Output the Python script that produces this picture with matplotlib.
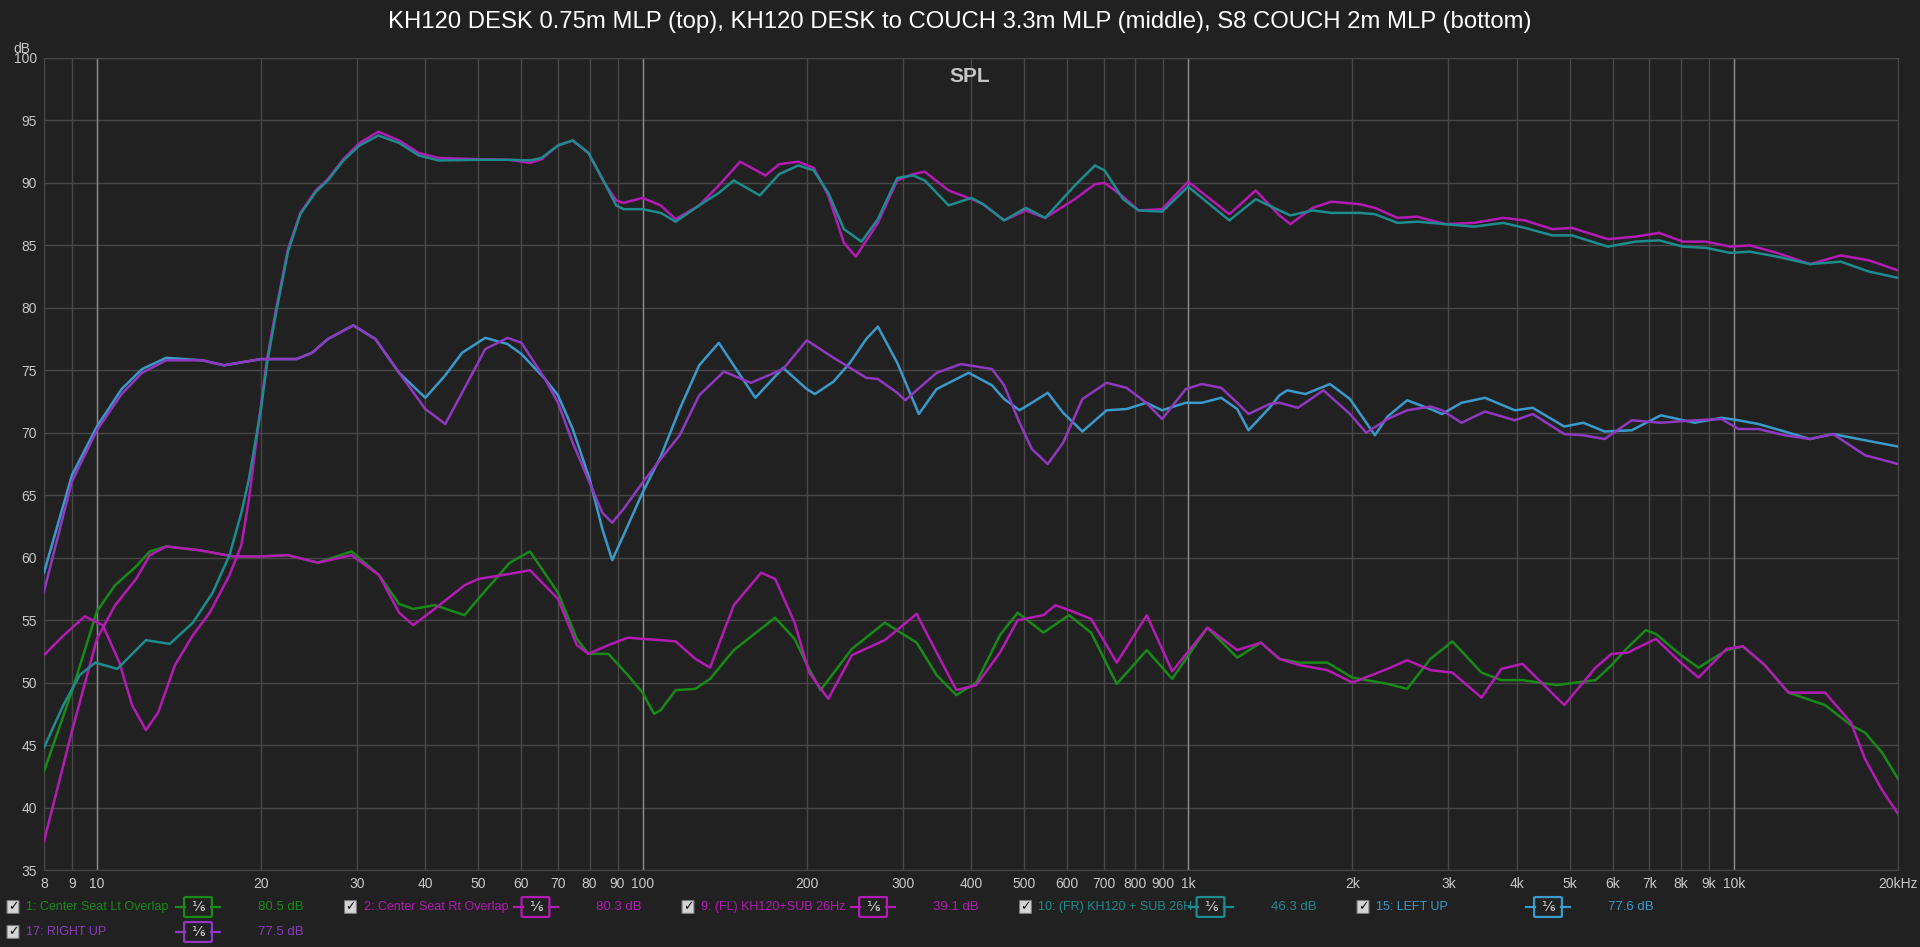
import numpy as np
import matplotlib.pyplot as plt
from matplotlib.patches import FancyBboxPatch
from matplotlib.lines import Line2D
from matplotlib.ticker import NullLocator

# ---- data: (frequency Hz, SPL dB) ----
fl_desk = [(8, 52.2), (8.7, 53.8), (9.5, 55.3), (10.25, 54.6), (11.0, 51.6), (11.6, 48.2), (12.3, 46.2),
           (12.95, 47.6), (13.9, 51.4), (15.0, 53.8), (16.1, 55.6), (17.5, 58.6), (18.4, 61.0), (19.0, 64.7),
           (20.0, 72.3), (20.5, 75.9), (21.3, 79.9), (22.4, 84.7), (23.6, 87.6), (25.2, 89.4), (26.5, 90.3),
           (28.3, 91.9), (30.3, 93.2), (32.8, 94.1), (35.8, 93.4), (38.9, 92.4), (42.3, 92.0), (50, 91.9),
           (57.1, 91.85), (62.2, 91.6), (65.3, 91.9), (70, 93.0), (74.5, 93.4), (79.6, 92.4), (85.2, 90.0),
           (89.5, 88.6), (92.3, 88.4), (100, 88.8), (108, 88.2), (115, 87.1), (127, 88.2), (138, 89.8),
           (151, 91.7), (168, 90.6), (178, 91.5), (193, 91.7), (206, 91.2), (219, 89.0), (234, 85.2),
           (246, 84.1), (270, 86.8), (293, 90.2), (313, 90.7), (329, 90.9), (364, 89.4), (401, 88.7),
           (421, 88.3), (460, 87.0), (504, 87.8), (547, 87.2), (620, 88.7), (675, 89.9), (703, 90.0),
           (760, 88.9), (811, 87.8), (896, 87.9), (1000, 90.1), (1190, 87.5), (1330, 89.4), (1470, 87.4),
           (1540, 86.7), (1690, 88.0), (1830, 88.5), (2060, 88.3), (2200, 88.0), (2420, 87.2), (2630, 87.3),
           (2960, 86.7), (3340, 86.8), (3780, 87.2), (4140, 87.0), (4650, 86.3), (5050, 86.4), (5880, 85.5),
           (6600, 85.7), (7300, 86.0), (8070, 85.3), (8900, 85.3), (9850, 84.9), (10700, 85.0), (12000, 84.4),
           (13800, 83.5), (15700, 84.2), (17700, 83.8), (20000, 83.0)]

fr_desk = [(8, 44.8), (8.68, 48.2), (9.3, 50.6), (9.93, 51.6), (10.9, 51.1), (12.3, 53.4), (13.6, 53.1),
           (15.0, 54.8), (16.3, 57.2), (17.5, 60.2), (18.4, 63.6), (19.0, 66.3), (20.0, 72.0), (20.5, 75.5),
           (21.3, 79.6), (22.4, 84.5), (23.6, 87.5), (25.2, 89.3), (26.5, 90.2), (28.3, 91.8), (30.3, 93.0),
           (32.8, 93.8), (35.8, 93.2), (38.9, 92.2), (42.3, 91.8), (50, 91.85), (57.1, 91.85), (62.2, 91.8),
           (65.3, 92.0), (70, 93.0), (74.5, 93.4), (79.6, 92.4), (85.2, 90.0), (89.5, 88.2), (92.3, 87.9),
           (100, 87.9), (108, 87.6), (115, 86.9), (127, 88.2), (138, 89.2), (147, 90.2), (164, 89.0),
           (178, 90.7), (193, 91.4), (206, 91.0), (219, 89.2), (234, 86.3), (252, 85.3), (270, 87.1),
           (293, 90.4), (313, 90.6), (329, 90.2), (364, 88.2), (401, 88.8), (421, 88.3), (460, 87.0),
           (504, 88.0), (547, 87.2), (620, 89.8), (675, 91.4), (703, 91.0), (760, 88.7), (811, 87.8),
           (896, 87.7), (1000, 89.7), (1190, 87.0), (1330, 88.7), (1470, 87.8), (1540, 87.4), (1690, 87.8),
           (1830, 87.6), (2060, 87.6), (2200, 87.5), (2420, 86.8), (2630, 86.9), (2960, 86.7), (3340, 86.5),
           (3780, 86.8), (4140, 86.4), (4650, 85.8), (5050, 85.8), (5880, 84.9), (6600, 85.3), (7300, 85.4),
           (8070, 84.9), (8900, 84.8), (9850, 84.4), (10700, 84.5), (12000, 84.1), (13800, 83.5), (15700, 83.7),
           (17700, 82.9), (20000, 82.4)]

left_up = [(8, 58.8), (9, 66.6), (10, 70.5), (11.1, 73.5), (12.1, 75.1), (13.4, 76.0), (15.6, 75.8),
           (17.1, 75.4), (20, 75.9), (23.2, 75.9), (24.8, 76.4), (26.5, 77.5), (29.5, 78.6), (32.4, 77.5),
           (35.8, 74.8), (40, 72.8), (43.5, 74.6), (46.7, 76.4), (51.5, 77.6), (56.6, 77.1), (60, 76.3),
           (66.3, 74.3), (70, 73.0), (74.5, 70.3), (80, 66.3), (84.4, 62.3), (88, 59.8), (92.3, 61.8),
           (100, 65.2), (108, 68.1), (117, 71.9), (127, 75.4), (138, 77.2), (150, 74.8), (161, 72.8),
           (181, 75.2), (200, 73.5), (207, 73.1), (224, 74.1), (240, 75.6), (257, 77.5), (270, 78.5),
           (293, 75.6), (321, 71.5), (346, 73.5), (396, 74.8), (437, 73.8), (460, 72.7), (491, 71.8),
           (517, 72.4), (553, 73.2), (590, 71.6), (640, 70.1), (709, 71.8), (771, 71.9), (838, 72.4),
           (896, 71.8), (990, 72.4), (1060, 72.4), (1150, 72.8), (1230, 71.9), (1290, 70.2), (1410, 72.0),
           (1470, 73.0), (1520, 73.4), (1640, 73.1), (1820, 73.9), (1980, 72.7), (2200, 69.8), (2320, 71.3),
           (2520, 72.6), (2780, 71.9), (2920, 71.5), (3170, 72.4), (3500, 72.8), (3970, 71.8), (4280, 72.0),
           (4890, 70.5), (5300, 70.8), (5800, 70.1), (6500, 70.2), (7350, 71.4), (8480, 70.8), (9500, 71.2),
           (10200, 71.0), (11100, 70.7), (12400, 70.1), (13800, 69.5), (15200, 69.9), (17400, 69.4),
           (20000, 68.9)]

right_up = [(8, 57.3), (9, 66.1), (10, 70.2), (11.1, 73.1), (12.1, 74.8), (13.4, 75.8), (15.6, 75.8),
            (17.1, 75.4), (20, 75.9), (23.2, 75.9), (24.8, 76.4), (26.5, 77.5), (29.5, 78.6), (32.4, 77.5),
            (35.8, 74.8), (40, 71.9), (43.5, 70.7), (46.7, 73.2), (51.5, 76.7), (56.6, 77.6), (60, 77.2),
            (66.3, 74.3), (70, 72.4), (74.5, 69.2), (80, 66.0), (84.4, 63.6), (88, 62.8), (92.3, 63.9),
            (100, 66.0), (108, 67.9), (117, 69.8), (127, 73.0), (141, 74.9), (158, 74.0), (181, 75.1),
            (200, 77.4), (224, 76.0), (240, 75.2), (257, 74.4), (270, 74.3), (293, 73.2), (303, 72.6),
            (346, 74.8), (383, 75.5), (437, 75.1), (460, 73.8), (491, 70.8), (517, 68.7), (553, 67.5),
            (590, 69.2), (640, 72.7), (709, 74.0), (771, 73.6), (838, 72.4), (896, 71.1), (990, 73.5),
            (1060, 73.9), (1150, 73.6), (1230, 72.4), (1290, 71.5), (1410, 72.3), (1470, 72.4), (1590, 72.0),
            (1770, 73.4), (1980, 71.5), (2120, 70.0), (2320, 71.1), (2520, 71.8), (2780, 72.1), (2920, 71.8),
            (3170, 70.8), (3500, 71.7), (3970, 71.0), (4280, 71.5), (4890, 69.9), (5300, 69.8), (5800, 69.5),
            (6500, 71.0), (7350, 70.8), (8480, 71.0), (9500, 71.1), (10200, 70.3), (11100, 70.3),
            (12400, 69.8), (13800, 69.5), (15200, 69.9), (17400, 68.2), (20000, 67.5)]

seat_lt = [(8, 42.9), (9, 49.3), (10, 55.7), (10.8, 57.8), (11.8, 59.3), (12.5, 60.5), (13.4, 60.9),
           (15.4, 60.6), (17.8, 60.1), (20, 60.1), (22.4, 60.2), (25.4, 59.6), (29.3, 60.5), (32.9, 58.6),
           (35.8, 56.3), (38, 55.9), (41.6, 56.2), (47.2, 55.4), (50, 56.7), (57.1, 59.6), (62.2, 60.5),
           (70, 57.2), (75.8, 53.5), (79.6, 52.3), (86.6, 52.3), (94, 50.6), (100, 49.2), (105, 47.5),
           (108, 47.8), (115, 49.4), (125, 49.5), (133, 50.3), (147, 52.6), (175, 55.2), (190, 53.5),
           (202, 51.1), (212, 49.4), (242, 52.7), (278, 54.8), (318, 53.2), (346, 50.6), (376, 49.0),
           (409, 50.0), (452, 53.8), (487, 55.6), (543, 54.0), (605, 55.4), (664, 54.0), (740, 49.9),
           (840, 52.6), (935, 50.3), (1085, 54.4), (1230, 52.0), (1360, 53.2), (1470, 51.9), (1600, 51.6),
           (1800, 51.6), (2000, 50.4), (2320, 49.9), (2520, 49.5), (2780, 51.9), (3050, 53.3), (3450, 50.8),
           (3750, 50.2), (4100, 50.2), (4730, 49.8), (5580, 50.2), (5970, 51.4), (6390, 52.8), (6900, 54.2),
           (7200, 53.9), (8000, 52.2), (8620, 51.2), (9700, 52.6), (10400, 52.9), (11400, 51.4),
           (12600, 49.2), (14700, 48.2), (16400, 46.6), (17400, 46.0), (18700, 44.4), (20000, 42.3)]

seat_rt = [(8, 37.3), (9, 46.1), (10, 53.5), (10.8, 56.2), (11.8, 58.3), (12.5, 60.2), (13.4, 60.9),
           (15.4, 60.6), (17.8, 60.1), (20, 60.1), (22.4, 60.2), (25.4, 59.6), (29.3, 60.2), (32.9, 58.6),
           (35.8, 55.6), (38, 54.6), (41.6, 55.9), (47.2, 57.8), (50, 58.3), (57.1, 58.7), (62.2, 59.0),
           (70, 56.7), (75.8, 53.0), (79.6, 52.3), (86.6, 53.0), (94, 53.6), (100, 53.5), (108, 53.4),
           (115, 53.3), (125, 51.9), (133, 51.2), (147, 56.2), (165, 58.8), (175, 58.3), (190, 54.8),
           (202, 50.8), (219, 48.7), (242, 52.2), (278, 53.4), (318, 55.5), (346, 52.4), (376, 49.4),
           (409, 49.8), (452, 52.4), (487, 55.0), (543, 55.4), (571, 56.2), (605, 55.8), (664, 55.1),
           (740, 51.6), (840, 55.4), (935, 50.9), (1085, 54.4), (1230, 52.6), (1360, 53.2), (1470, 51.9),
           (1600, 51.4), (1800, 51.0), (2000, 50.0), (2320, 51.1), (2520, 51.8), (2780, 51.0), (3050, 50.8),
           (3450, 48.8), (3750, 51.1), (4100, 51.5), (4890, 48.2), (5580, 51.2), (5970, 52.3), (6390, 52.4),
           (7200, 53.5), (8000, 51.6), (8620, 50.4), (9700, 52.7), (10400, 52.9), (11400, 51.4),
           (12600, 49.2), (14700, 49.2), (16400, 46.8), (17400, 43.9), (18700, 41.4), (20000, 39.5)]

legend_names = ['1: Center Seat Lt Overlap', '2: Center Seat Rt Overlap', '9: (FL) KH120+SUB 26Hz',
                '10: (FR) KH120 + SUB 26H', '15: LEFT UP', '17: RIGHT UP']
legend_values = ['80.5 dB', '80.3 dB', '39.1 dB', '46.3 dB', '77.6 dB', '77.5 dB']
colors = ['#178a17', '#b41ab4', '#b41ab4', '#1c8c8e', '#3a9acb', '#9038bf']
series = [seat_lt, seat_rt, fl_desk, fr_desk, left_up, right_up]

xticks = [8, 9, 10, 20, 30, 40, 50, 60, 70, 80, 90, 100, 200, 300, 400, 500, 600, 700, 800, 900,
          1000, 2000, 3000, 4000, 5000, 6000, 7000, 8000, 9000, 10000, 20000]
xticklabels = ['8', '9', '10', '20', '30', '40', '50', '60', '70', '80', '90', '100', '200', '300', '400',
               '500', '600', '700', '800', '900', '1k', '2k', '3k', '4k', '5k', '6k', '7k', '8k', '9k',
               '10k', '20kHz']
yticks = list(range(35, 101, 5))

title = 'KH120 DESK 0.75m MLP (top), KH120 DESK to COUCH 3.3m MLP (middle), S8 COUCH 2m MLP (bottom)'

# ---- figure ----
W, H = 1920, 947
BG = '#212121'
GRID = '#474747'
TXT = '#c8c8c8'
narrow = ['Liberation Sans Narrow', 'Liberation Sans', 'DejaVu Sans']

fig = plt.figure(figsize=(W / 100, H / 100), dpi=100, facecolor=BG)
ax = fig.add_axes([44 / W, 1 - 870 / H, (1898 - 44) / W, (870 - 58) / H], facecolor=BG)

ax.set_xscale('log')
ax.set_xlim(8, 20000)
ax.set_ylim(35, 100)
ax.set_xticks(xticks, xticklabels)
ax.xaxis.set_minor_locator(NullLocator())
ax.set_yticks(yticks)
ax.grid(True, color=GRID, lw=1.0)
for f in [10, 100, 1000, 10000]:
    ax.axvline(f, color='#8a8a8a', lw=1.0, zorder=1)
ax.set_axisbelow(True)
for s in ax.spines.values():
    s.set_color(GRID)
ax.tick_params(length=0, colors=TXT, labelsize=10, pad=5)
for lab in ax.get_xticklabels() + ax.get_yticklabels():
    lab.set_family(narrow)

for data, c in zip(series, colors):
    f, v = zip(*data)
    ax.plot(f, v, color=c, lw=1.8, solid_joinstyle='round', zorder=3)

fig.text(30 / W, 1 - 49 / H, 'dB', ha='right', va='center', color=TXT, fontsize=10, family=narrow)
fig.text(0.5, 1 - 22 / H, title, ha='center', va='center', color='white', fontsize=17.2,
         family=['Liberation Sans', 'DejaVu Sans'])
fig.text(970 / W, 1 - 76 / H, 'SPL', ha='center', va='center', color='#c4c4c4', fontsize=15,
         weight='bold', family=['Liberation Sans', 'DejaVu Sans'])


# ---- legend strip ----
def fx(x):
    return x / W


def fy(y):
    return 1 - y / H


for i, (name, val, c) in enumerate(zip(legend_names, legend_values, colors)):
    row = 0 if i < 5 else 1
    col = i if i < 5 else 0
    x0 = 13 + col * 337.5
    y0 = 907 + row * 25
    # checkbox
    fig.patches.append(FancyBboxPatch((fx(x0 - 5), fy(y0 + 6)), 10 / W, 12 / H,
                                      boxstyle='round,pad=0.0005', transform=fig.transFigure,
                                      facecolor='#d4d4d4', edgecolor='#7a7a7a', lw=0.8))
    fig.text(fx(x0), fy(y0), '\u2713', ha='center', va='center', color='#111111', fontsize=9,
             weight='bold')
    fig.text(fx(x0 + 13), fy(y0), name, ha='left', va='center', color=c, fontsize=9, family=narrow)
    # smoothing box
    bx = x0 + 185
    fig.patches.append(FancyBboxPatch((fx(bx - 12), fy(y0 + 9)), 24 / W, 18 / H,
                                      boxstyle='round,pad=0.001', transform=fig.transFigure,
                                      facecolor='none', edgecolor=c, lw=1.6))
    fig.lines.append(Line2D([fx(bx - 22), fx(bx - 13)], [fy(y0), fy(y0)], transform=fig.transFigure,
                            color=c, lw=1.6))
    fig.lines.append(Line2D([fx(bx + 13), fx(bx + 22)], [fy(y0), fy(y0)], transform=fig.transFigure,
                            color=c, lw=1.6))
    fig.text(fx(bx), fy(y0), '\u2159', ha='center', va='center', color='#d8d8d8', fontsize=10)
    fig.text(fx(x0 + 291), fy(y0), val, ha='right', va='center', color=c, fontsize=9.5, family=narrow)

fig.savefig('out.png', dpi=100, facecolor=BG)
